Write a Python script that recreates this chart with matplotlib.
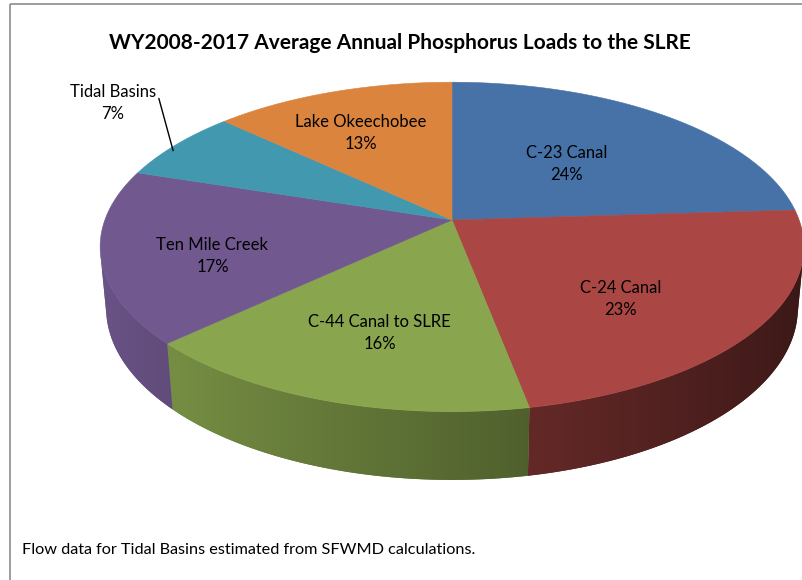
import numpy as np
import matplotlib
matplotlib.use("Agg")
import matplotlib.pyplot as plt
from matplotlib.patches import Polygon, Rectangle
from matplotlib.colors import to_rgb

# data
sources = ["C-23 Canal", "C-24 Canal", "C-44 Canal to SLRE",
           "Ten Mile Creek", "Tidal Basins", "Lake Okeechobee"]
percents = [24, 23, 16, 17, 7, 13]
colors = ["#4672A8", "#AA4643", "#89A54E", "#71588F", "#4198AF", "#DB843D"]

title = "WY2008-2017 Average Annual Phosphorus Loads to the SLRE"
footnote = "Flow data for Tidal Basins estimated from SFWMD calculations."

# label placement on the pie top: radius and angular nudge (degrees)
label_r = [0.51, 0.64, 0.66, 0.70, 1.0, 0.66]
label_da = [0, 7.7, -1.6, -5.4, 0, -2.6]

# camera for the tilted pie (pixel space)
CX, CY = 452, 220
TILT = np.radians(27.5)
DIST = 5.43
FOCAL = 1885
THICK = 0.2


def project(u, v, z):
    depth = DIST + v * np.cos(TILT) - z * np.sin(TILT)
    up = v * np.sin(TILT) + z * np.cos(TILT)
    return CX + FOCAL * u / depth, CY - FOCAL * up / depth


def shade(color, a):
    # light comes from the left, so the right-hand wall is darker
    k = np.clip(0.64 - 0.3 * np.sin(a), 0.2, 1.0)
    return np.outer(k, to_rgb(color))


fig = plt.figure(figsize=(8.03, 5.8), dpi=100)
ax = fig.add_axes([0, 0, 1, 1])
ax.set_xlim(0, 803)
ax.set_ylim(580, 0)
ax.axis("off")

ax.add_patch(Rectangle((10, 4), 800, 590, fill=False, edgecolor="#8c8c8c", lw=1.2))

fracs = np.array(percents) / sum(percents)
edges = np.concatenate([[0], np.cumsum(fracs)]) * 2 * np.pi

# outer walls: only the arc facing the camera is visible
cam_v = -DIST * np.cos(TILT)
a_vis = np.arccos(1 / cam_v)
lo, hi = a_vis - 0.01, 2 * np.pi - a_vis + 0.01
for i in range(len(sources)):
    a_start, a_end = max(edges[i], lo), min(edges[i + 1], hi)
    if a_end <= a_start:
        continue
    angs = np.linspace(a_start, a_end, 200)
    tx, ty = project(np.sin(angs), np.cos(angs), 0)
    bx, by = project(np.sin(angs), np.cos(angs), -THICK)
    outline = np.column_stack([np.concatenate([tx, bx[::-1]]),
                               np.concatenate([ty, by[::-1]])])
    wall = Polygon(outline, closed=True, facecolor=shade(colors[i], [np.mean(angs)])[0],
                   edgecolor="none", lw=0)
    ax.add_patch(wall)
    # horizontal shading gradient clipped to the wall
    x0, x1 = outline[:, 0].min(), outline[:, 0].max()
    y0, y1 = outline[:, 1].min(), outline[:, 1].max()
    xs = np.linspace(x0, x1, 300)
    a_col = np.interp(xs, bx[::-1], angs[::-1])
    img = shade(colors[i], a_col)[np.newaxis, :, :]
    im = ax.imshow(img, extent=(x0, x1, y1, y0), aspect="auto",
                   interpolation="bilinear", zorder=1)
    im.set_clip_path(wall)

ax.set_xlim(0, 803)
ax.set_ylim(580, 0)

# top faces
for i in range(len(sources)):
    angs = np.linspace(edges[i], edges[i + 1], 120)
    pts = [project(0, 0, 0)] + [project(np.sin(a), np.cos(a), 0) for a in angs]
    ax.add_patch(Polygon(pts, closed=True, facecolor=colors[i], edgecolor=colors[i],
                         lw=0.4, zorder=2))

# labels
font = "Lato"
for i, name in enumerate(sources):
    am = (edges[i] + edges[i + 1]) / 2
    txt = f"{name}\n{percents[i]}%"
    if name == "Tidal Basins":
        ex, ey = project(np.sin(am), np.cos(am), 0)
        ax.annotate(txt, xy=(ex - 3, ey + 6), xytext=(113, 103), ha="center", va="center",
                    fontsize=12, family=font, linespacing=1.45, zorder=3,
                    arrowprops=dict(arrowstyle="-", color="black", lw=1,
                                    shrinkA=0, shrinkB=0, relpos=(1.03, 0.64)))
    else:
        r = label_r[i]
        a = am + np.radians(label_da[i])
        lx, ly = project(r * np.sin(a), r * np.cos(a), 0)
        ax.text(lx, ly, txt, ha="center", va="center", fontsize=12,
                family=font, linespacing=1.45, zorder=3)

ax.text(400, 43, title, ha="center", va="center", fontsize=15,
        fontweight="bold", family=font)
ax.text(22, 550, footnote, ha="left", va="center", fontsize=11.7, family=font)

fig.savefig("out.png", dpi=100)
